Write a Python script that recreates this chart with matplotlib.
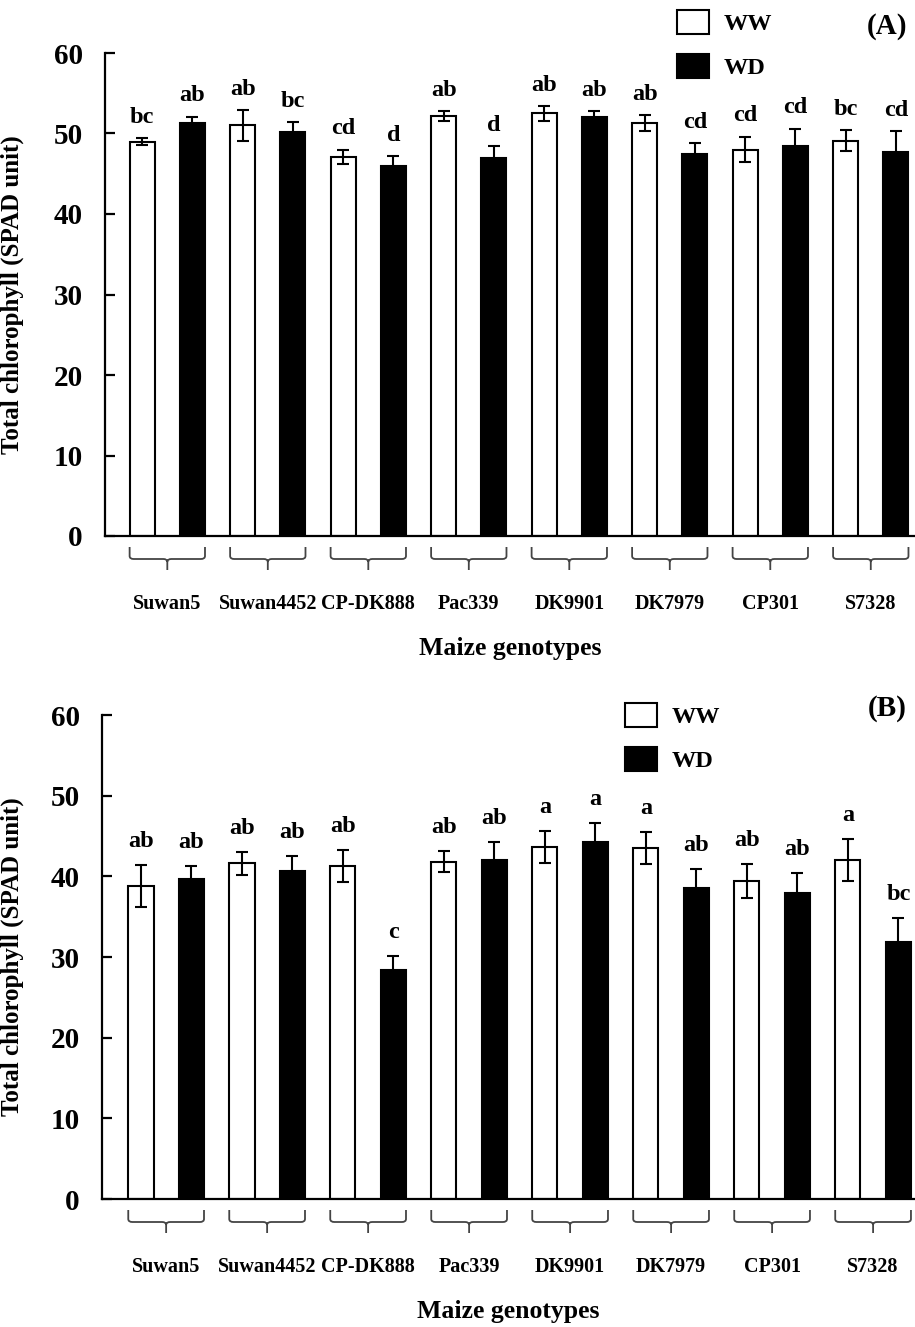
import numpy as np
import matplotlib
matplotlib.use("Agg")
import matplotlib.pyplot as plt
from matplotlib.path import Path
from matplotlib.patches import PathPatch

plt.rcParams["font.family"] = ["Liberation Serif", "DejaVu Serif"]
plt.rcParams["font.weight"] = "bold"

genotypes = ["Suwan5", "Suwan4452", "CP-DK888", "Pac339", "DK9901", "DK7979", "CP301", "S7328"]

# painel A
ww_a = [49.0, 51.0, 47.1, 52.2, 52.5, 51.3, 48.0, 49.1]
ww_a_err = [0.4, 1.9, 0.9, 0.6, 0.9, 1.0, 1.6, 1.3]
wd_a = [51.3, 50.2, 46.0, 46.9, 52.0, 47.4, 48.4, 47.7]
wd_a_err = [0.8, 1.2, 1.2, 1.5, 0.8, 1.4, 2.2, 2.6]
let_ww_a = ["bc", "ab", "cd", "ab", "ab", "ab", "cd", "bc"]
let_wd_a = ["ab", "bc", "d", "d", "ab", "cd", "cd", "cd"]

# painel B
ww_b = [38.8, 41.6, 41.3, 41.8, 43.6, 43.5, 39.4, 42.0]
ww_b_err = [2.6, 1.4, 2.0, 1.3, 2.0, 2.0, 2.1, 2.6]
wd_b = [39.7, 40.6, 28.4, 42.0, 44.2, 38.5, 37.9, 31.8]
wd_b_err = [1.6, 1.9, 1.7, 2.2, 2.4, 2.4, 2.5, 3.0]
let_ww_b = ["ab", "ab", "ab", "ab", "a", "a", "ab", "a"]
let_wd_b = ["ab", "ab", "c", "ab", "a", "ab", "ab", "bc"]

W, H = 915, 1327
fig = plt.figure(figsize=(W / 100, H / 100), dpi=100)


def brace(ax, xc, half=0.75, h_px=484):
    # chave cinza sob cada par de barras (x em dados, y em fração do eixo)
    tr = ax.get_xaxis_transform()
    y0, y1, y2 = -11 / h_px, -23 / h_px, -34 / h_px
    rx, ry = 0.08, 3 / h_px
    x0, x1 = xc - half, xc + half
    verts = [(x0, y0), (x0, y1 + ry), (x0, y1), (x0 + rx, y1), (xc - rx, y1), (xc, y1), (xc, y1 - ry),
             (xc, y2),
             (x1, y0), (x1, y1 + ry), (x1, y1), (x1 - rx, y1), (xc + rx, y1), (xc, y1), (xc, y1 - ry)]
    codes = [Path.MOVETO, Path.LINETO, Path.CURVE3, Path.CURVE3, Path.LINETO, Path.CURVE3, Path.CURVE3,
             Path.LINETO,
             Path.MOVETO, Path.LINETO, Path.CURVE3, Path.CURVE3, Path.LINETO, Path.CURVE3, Path.CURVE3]
    ax.add_patch(PathPatch(Path(verts, codes), transform=tr, fill=False, edgecolor="#444444",
                           lw=1.3, clip_on=False))


def panel(rect_px, xlim, ww, ww_err, wd, wd_err, let_ww, let_wd, tag, leg_xy, lab_off):
    left, top, right, bottom = rect_px
    ax = fig.add_axes([left / W, 1 - bottom / H, (right - left) / W, (bottom - top) / H])
    x = np.arange(len(genotypes)) * 2
    ekw = dict(ecolor="black", elinewidth=1.5, capsize=4.5, capthick=1.5)
    b1 = ax.bar(x, ww, 0.5, yerr=ww_err, color="white", edgecolor="black", lw=1.5, error_kw=ekw, label="WW")
    b2 = ax.bar(x + 1, wd, 0.5, yerr=wd_err, color="black", edgecolor="black", lw=1.5, error_kw=ekw, label="WD")
    for xs, vals, errs, labs in [(x, ww, ww_err, let_ww), (x + 1, wd, wd_err, let_wd)]:
        for xi, v, e, s in zip(xs, vals, errs, labs):
            ax.annotate(s, (xi, v + e), xytext=(0, lab_off), textcoords="offset points",
                        ha="center", va="baseline", fontsize=17.5, fontweight="bold")
    ax.set_ylim(0, 60)
    ax.set_xlim(*xlim)
    ax.set_yticks(range(0, 61, 10))
    ax.spines["top"].set_visible(False)
    ax.spines["right"].set_visible(False)
    ax.spines["left"].set_linewidth(1.6)
    ax.spines["bottom"].set_linewidth(1.6)
    ax.tick_params(axis="y", direction="in", length=7, width=1.6, labelsize=21, pad=16)
    ax.set_xticks(x + 0.5)
    ax.set_xticklabels(genotypes)
    ax.tick_params(axis="x", length=0, labelsize=14.5, pad=42)
    for t in ax.get_xticklabels() + ax.get_yticklabels():
        t.set_fontweight("bold")
    for xc in x + 0.5:
        brace(ax, xc, h_px=bottom - top)
    ax.set_xlabel("Maize genotypes", fontsize=18.5, fontweight="bold", labelpad=16)
    ax.set_ylabel("Total chlorophyll (SPAD unit)", fontsize=18, fontweight="bold")
    ax.yaxis.set_label_coords(-(left - 24) / (right - left), 0.5)
    ax.legend([b1, b2], ["WW", "WD"], loc="upper left", bbox_to_anchor=(leg_xy[0] / W, 1 - leg_xy[1] / H),
              bbox_transform=fig.transFigure, frameon=False, prop=dict(size=17.5, weight="bold"),
              handlelength=1.3, handleheight=1.15, handletextpad=0.6, labelspacing=0.75,
              borderpad=0, borderaxespad=0)
    fig.text(887 / W, 1 - tag[1] / H, tag[0], ha="center", va="center", fontsize=21, fontweight="bold")
    return ax


panel((105, 53, 915, 536), (-0.74, 15.38), ww_a, ww_a_err, wd_a, wd_a_err, let_ww_a, let_wd_a,
      ("(A)", 26), (677, 10), 11)
panel((102, 715, 915, 1199), (-0.77, 15.33), ww_b, ww_b_err, wd_b, wd_b_err, let_ww_b, let_wd_b,
      ("(B)", 708), (625, 703), 13)

fig.savefig("out.png", dpi=100)
